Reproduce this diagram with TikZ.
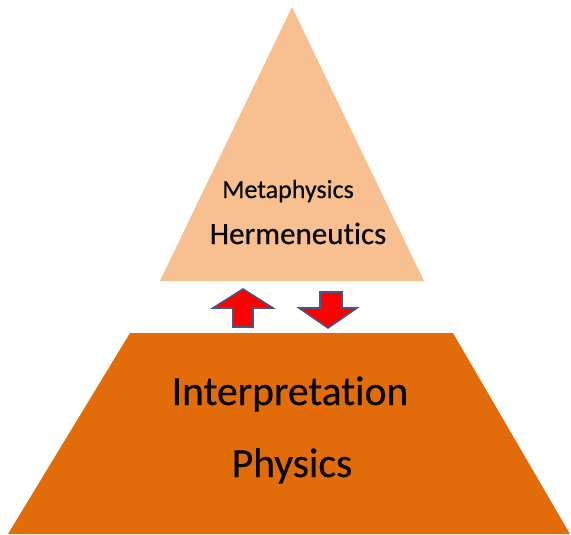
\documentclass[tikz,border=0pt]{standalone}
\usepackage{fontspec}
\setmainfont{Carlito}[Ligatures=NoCommon, FakeBold=0.6]
\definecolor{peach}{HTML}{F8C090}
\definecolor{burnt}{HTML}{E36C0A}
\definecolor{arrowedge}{HTML}{4A5585}
\definecolor{txt}{HTML}{0A0A0A}
\tikzset{
  lbl/.style={anchor=base, inner sep=0pt, text=txt},
  blockarrow/.style={fill=red, draw=arrowedge, line width=1.6pt, line join=miter}
}
\begin{document}
\begin{tikzpicture}[x=1pt,y=-1pt]
\useasboundingbox (0,0) rectangle (571,535);
% top triangle
\fill[peach] (292,7) -- (424,281) -- (160,281) -- cycle;
% bottom trapezoid
\fill[burnt] (130,333) -- (453,333) -- (570,534) -- (8,534) -- cycle;
% arrows
\draw[blockarrow] (243,289) -- (273,308) -- (253,308) -- (253,327) -- (233,327) -- (233,308) -- (213,308) -- cycle;
\draw[blockarrow] (328,328) -- (357,308) -- (342,308) -- (342,292) -- (320,292) -- (320,308) -- (299,308) -- cycle;
% texts
\node[lbl, font=\fontsize{26}{30}\selectfont] (meta) at (288,198) {Metaphysics};
\node[lbl, font=\fontsize{31}{36}\selectfont] (herm) at (298,244) {Hermeneutics};
\node[lbl, font=\fontsize{41.5}{48}\selectfont] (interp) at (290,405) {Interpretation};
\node[lbl, font=\fontsize{41.5}{48}\selectfont] (phys) at (292,477) {Physics};
\end{tikzpicture}
\end{document}
